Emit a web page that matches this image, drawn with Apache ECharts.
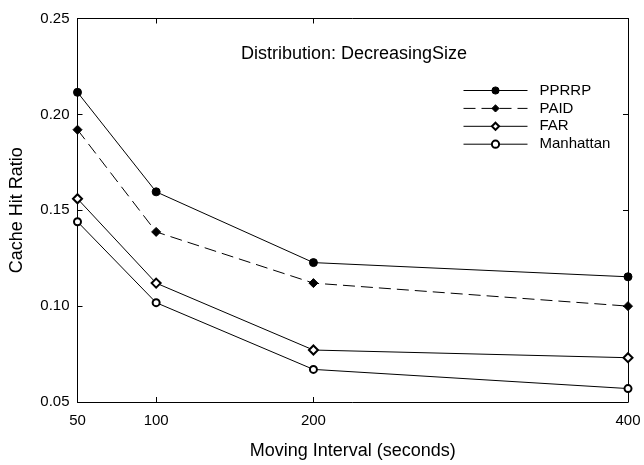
<!DOCTYPE html>
<html>
<head>
<meta charset="utf-8">
<script src="https://cdn.jsdelivr.net/npm/echarts@6/dist/echarts.min.js"></script>
<style>html,body{margin:0;padding:0;background:#fff;}#c{width:644px;height:465px;}</style>
</head>
<body>
<div id="c"></div>
<script>
var xValues = [50, 100, 200, 400];
var xTicks = [50, 100, 200, 400];
var yTicks = [0.05, 0.10, 0.15, 0.20, 0.25];
var seriesNames = ['PPRRP', 'PAID', 'FAR', 'Manhattan'];
var pprrp = [0.2115, 0.1596, 0.1227, 0.1153];
var paid = [0.192, 0.1387, 0.112, 0.100];
var far = [0.156, 0.112, 0.0771, 0.0731];
var manhattan = [0.144, 0.1018, 0.067, 0.057];

var FONT = "'Liberation Sans', Arial, Helvetica, sans-serif";
function pts(vals) { return xValues.map(function (x, i) { return [x, vals[i]]; }); }

var chart = echarts.init(document.getElementById('c'), null, { renderer: 'canvas' });
var axisCommon = {
  axisLine: { show: true, lineStyle: { color: '#000', width: 1 } },
  splitLine: { show: false }
};
function mkSeries(name, vals, symbol, size, dashed) {
  return {
    name: name, type: 'line', data: pts(vals),
    symbol: symbol, symbolSize: size,
    lineStyle: { color: '#000', width: 1, type: dashed ? [12, 6] : 'solid' },
    itemStyle: { color: '#000', borderColor: '#000', borderWidth: 1 },
    emphasis: { disabled: true },
    animation: false, z: 3
  };
}
var option = {
  backgroundColor: '#fff',
  animation: false,
  textStyle: { fontFamily: FONT, color: '#000' },
  title: {
    text: 'Distribution: DecreasingSize',
    left: 354, top: 45, textAlign: 'center', padding: 0,
    textStyle: { fontFamily: FONT, fontSize: 18, fontWeight: 'normal', color: '#000' }
  },
  grid: { left: 77.5, right: 16, top: 18.5, bottom: 62, containLabel: false },
  legend: {
    orient: 'vertical', left: 458, top: 78,
    itemWidth: 64, itemHeight: 9, itemGap: 2.9,
    data: seriesNames,
    lineStyle: { width: 1 },
    itemStyle: { borderWidth: 1 },
    textStyle: { fontFamily: FONT, fontSize: 15, color: '#000', lineHeight: 14, padding: [0, 0, 0, 7] }
  },
  xAxis: [
    Object.assign({}, axisCommon, {
      type: 'value', min: 50, max: 400, position: 'bottom',
      name: 'Moving Interval (seconds)', nameLocation: 'middle', nameGap: 40,
      nameTextStyle: { fontFamily: FONT, fontSize: 18, color: '#000' },
      axisTick: { show: true, inside: true, length: 5, customValues: xTicks, lineStyle: { color: '#000' } },
      axisLabel: { show: true, customValues: xTicks, margin: 11, fontFamily: FONT, fontSize: 15, color: '#000' }
    }),
    Object.assign({}, axisCommon, {
      type: 'value', min: 50, max: 400, position: 'top',
      axisTick: { show: true, inside: true, length: 5, customValues: xTicks, lineStyle: { color: '#000' } },
      axisLabel: { show: false }
    })
  ],
  yAxis: [
    Object.assign({}, axisCommon, {
      type: 'value', min: 0.05, max: 0.25, interval: 0.05, position: 'left',
      name: 'Cache Hit Ratio', nameLocation: 'middle', nameGap: 51,
      nameTextStyle: { fontFamily: FONT, fontSize: 18, color: '#000' },
      axisTick: { show: true, inside: true, length: 5, customValues: yTicks, lineStyle: { color: '#000' } },
      axisLabel: { show: true, customValues: yTicks, margin: 8, fontFamily: FONT, fontSize: 15, color: '#000',
        formatter: function (v) { return v.toFixed(2); } }
    }),
    Object.assign({}, axisCommon, {
      type: 'value', min: 0.05, max: 0.25, interval: 0.05, position: 'right',
      axisTick: { show: true, inside: true, length: 5, customValues: yTicks, lineStyle: { color: '#000' } },
      axisLabel: { show: false }
    })
  ],
  series: [
    mkSeries(seriesNames[0], pprrp, 'circle', 8, false),
    mkSeries(seriesNames[1], paid, 'diamond', 9, true),
    mkSeries(seriesNames[2], far, 'emptyDiamond', 9, false),
    mkSeries(seriesNames[3], manhattan, 'emptyCircle', 7, false)
  ]
};
chart.setOption(option);
</script>
</body>
</html>
